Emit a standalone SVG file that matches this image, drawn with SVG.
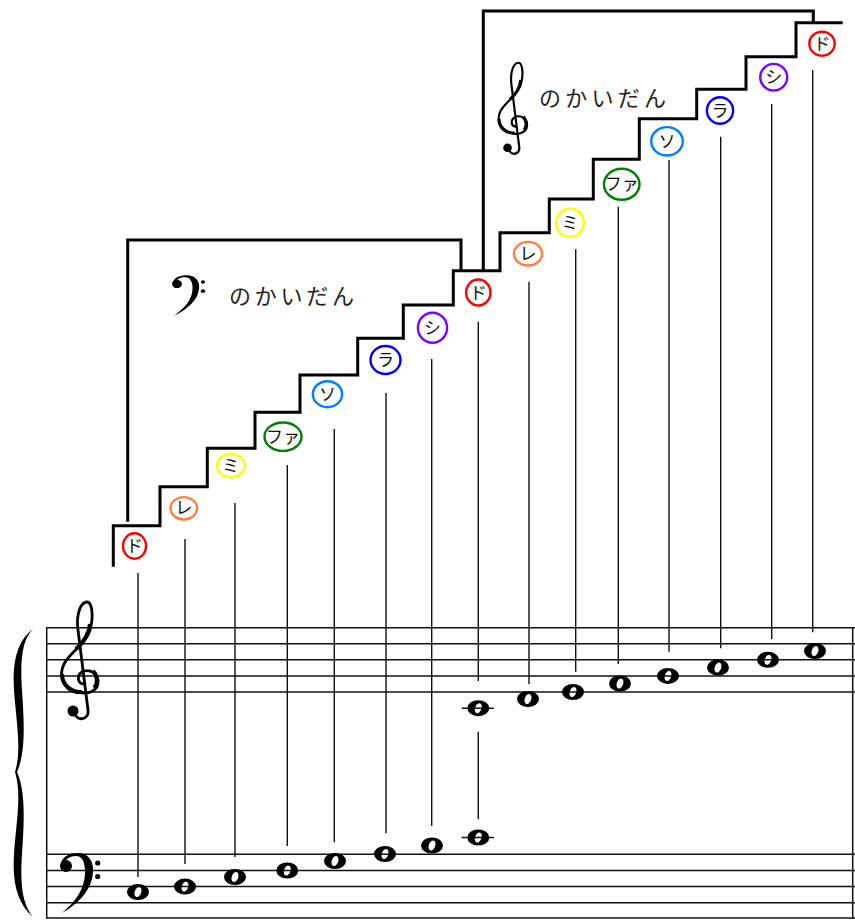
<svg xmlns="http://www.w3.org/2000/svg" xmlns:xlink="http://www.w3.org/1999/xlink" width="855" height="920" viewBox="0 0 855 920">
<style>
.stair{fill:none;stroke:#000;stroke-width:3;stroke-linejoin:miter}
.staff{stroke:#111;stroke-width:1.5}
.conn{stroke:#111;stroke-width:1.4}
.ring{fill:#fff;stroke-width:2.4}
.lbl{font-family:"Noto Sans CJK JP","Noto Sans",sans-serif;font-size:17px;text-anchor:middle;fill:#111}
.title{font-family:"Noto Sans CJK JP","Noto Sans",sans-serif;font-size:22px;fill:#222}
.ledger{stroke:#111;stroke-width:1.6}
</style>
<defs>
<path id="whole" fill-rule="evenodd" fill="#000" d="M -11 0 A 11 8 0 1 0 11 0 A 11 8 0 1 0 -11 0 Z M 1.9 -4.7 A 2.9 5.1 20 1 0 -1.9 4.7 A 2.9 5.1 20 1 0 1.9 -4.7 Z"/>
<g id="treble">
<path fill="none" stroke="#000" stroke-width="2.8" stroke-linecap="round" d="M 4 6 C -2 6 -4 -2 2 -6 C 10 -10 19 -4 18 5 C 17 14 6 17 -2 14 C -16 10 -22 -2 -16 -14 C -10 -26 6 -34 10 -48 C 14 -62 12 -76 7 -76 C 0 -76 -4 -62 -2 -48 L 8 32 C 9 41 0 43 -4 38"/>
<path fill="none" stroke="#000" stroke-width="4" d="M -18 -4 C -18 8 -8 15 2 14 M 13 -7 C 18 -2 18 6 14 10 M -4 -29 C 4 -36 9 -44 10 -54"/>
<circle cx="-7" cy="33" r="5.5" fill="#000"/>
</g>
<g id="bass">
<path fill="#000" d="M -5 -3 C -3 -10 4 -13 12 -13 C 22 -13 28 -5 27 6 C 26 24 12 38 -4 47 C 8 37 19 24 19 6 C 19 -4 16 -10 10 -10 C 4 -10 0 -7 -1 -3 Z"/>
<circle cx="0" cy="0" r="6" fill="#000"/>
<circle cx="31.7" cy="-3" r="2.6" fill="#000"/>
<circle cx="31.7" cy="10.5" r="2.6" fill="#000"/>
</g>
</defs>
<rect width="855" height="920" fill="#fff"/>

<g id="frames">
<path class="stair" d="M 127.7 521.7 V 240 H 461 V 270.7"/>
<path class="stair" d="M 483.3 270 V 11 H 813.3 V 22.7"/>
<path class="stair" d="M 113.3 566.7 V 525.7 H 160 V 486.7 H 207.3 V 448.3 H 255 V 412.3 H 300 V 375 H 357.7 V 338.3 H 403.3 V 305 H 453.3 V 270.7 H 500 V 232.7 H 549.3 V 199 H 593.3 V 159.3 H 639.3 V 118.7 H 696.7 V 89.3 H 746 V 56.7 H 796 V 22.7 H 842.7"/>
</g>

<g id="titles">
<use xlink:href="#bass" transform="translate(177,284) scale(0.82,0.68)"/>
<text class="title" x="229" y="304" textLength="125" lengthAdjust="spacing">のかいだん</text>
<use xlink:href="#treble" transform="translate(513,122) scale(0.78)"/>
<text class="title" x="539" y="106" textLength="127" lengthAdjust="spacing">のかいだん</text>
</g>

<g id="staff">
<g class="staff">
<line x1="46.7" y1="627.7" x2="855" y2="627.7"/>
<line x1="46.7" y1="643.7" x2="855" y2="643.7"/>
<line x1="46.7" y1="659.8" x2="855" y2="659.8"/>
<line x1="46.7" y1="675.9" x2="855" y2="675.9"/>
<line x1="46.7" y1="692" x2="855" y2="692"/>
<line x1="46.7" y1="854.3" x2="855" y2="854.3"/>
<line x1="46.7" y1="870.5" x2="855" y2="870.5"/>
<line x1="46.7" y1="886.6" x2="855" y2="886.6"/>
<line x1="46.7" y1="902.7" x2="855" y2="902.7"/>
<line x1="46.7" y1="918" x2="855" y2="918"/>
<line x1="46.7" y1="627" x2="46.7" y2="918.7"/>
<line x1="852.7" y1="627" x2="852.7" y2="918.7"/>
</g>
<path id="brace" fill="#000" d="M 33 629 C 18 640 12 660 14 690 C 16 720 22 750 15 772 C 22 794 16 824 14 854 C 12 884 18 904 33 917 C 22 904 20 884 22 854 C 24 824 26 792 17 772 C 26 752 24 720 22 690 C 20 660 22 640 33 629 Z"/>
<use xlink:href="#treble" transform="translate(80,678)"/>
<use xlink:href="#bass" transform="translate(66,866)"/>
</g>

<g id="connectors">
<line class="conn" x1="138" y1="573" x2="138" y2="877"/>
<line class="conn" x1="185" y1="539" x2="185" y2="864"/>
<line class="conn" x1="235" y1="503" x2="235" y2="857"/>
<line class="conn" x1="287.3" y1="465" x2="287.3" y2="846"/>
<line class="conn" x1="334.3" y1="429" x2="334.3" y2="842.3"/>
<line class="conn" x1="386" y1="393" x2="386" y2="833.3"/>
<line class="conn" x1="431.7" y1="359" x2="431.7" y2="826"/>
<line class="conn" x1="478.3" y1="321.7" x2="478.3" y2="681"/>
<line class="conn" x1="478.3" y1="731.7" x2="478.3" y2="819.3"/>
<line class="conn" x1="529" y1="281.7" x2="529" y2="684.3"/>
<line class="conn" x1="575.7" y1="249.3" x2="575.7" y2="671.7"/>
<line class="conn" x1="618.3" y1="206.7" x2="618.3" y2="664"/>
<line class="conn" x1="669" y1="160" x2="669" y2="651.7"/>
<line class="conn" x1="720.7" y1="136.7" x2="720.7" y2="648.3"/>
<line class="conn" x1="771.7" y1="104" x2="771.7" y2="639.3"/>
<line class="conn" x1="812.7" y1="70" x2="812.7" y2="632.3"/>
</g>

<g id="labels">
<g id="bass-do"><ellipse class="ring" cx="134.5" cy="546" rx="11.5" ry="12.7" stroke="#ff0000"/><text class="lbl" x="134.5" y="552">ド</text></g>
<g id="bass-re"><ellipse class="ring" cx="183.8" cy="508.3" rx="13.3" ry="11.2" stroke="#ff8040"/><text class="lbl" x="183.8" y="514.3">レ</text></g>
<g id="bass-mi"><ellipse class="ring" cx="230.8" cy="465.5" rx="13.7" ry="11.7" stroke="#ffff00"/><text class="lbl" x="230.8" y="471.5">ミ</text></g>
<g id="bass-fa"><ellipse class="ring" cx="283" cy="436.7" rx="18.5" ry="14.2" stroke="#008000"/><text class="lbl" x="283" y="442.7">ファ</text></g>
<g id="bass-so"><ellipse class="ring" cx="327.5" cy="394.2" rx="14.6" ry="13" stroke="#0080ff"/><text class="lbl" x="327.5" y="400.2">ソ</text></g>
<g id="bass-la"><ellipse class="ring" cx="385.5" cy="360" rx="15" ry="14" stroke="#0000ff"/><text class="lbl" x="385.5" y="366">ラ</text></g>
<g id="bass-si"><ellipse class="ring" cx="432.5" cy="327.8" rx="14.6" ry="15" stroke="#8000ff"/><text class="lbl" x="432.5" y="333.8">シ</text></g>
<g id="mid-do"><ellipse class="ring" cx="478.3" cy="292.5" rx="12.2" ry="13" stroke="#ff0000"/><text class="lbl" x="478.3" y="298.5">ド</text></g>
<g id="treble-re"><ellipse class="ring" cx="528" cy="253.7" rx="14.1" ry="11.8" stroke="#ff8040"/><text class="lbl" x="528" y="259.7">レ</text></g>
<g id="treble-mi"><ellipse class="ring" cx="570" cy="222.8" rx="13.8" ry="14.3" stroke="#ffff00"/><text class="lbl" x="570" y="228.8">ミ</text></g>
<g id="treble-fa"><ellipse class="ring" cx="621.7" cy="184.3" rx="17.8" ry="15.5" stroke="#008000"/><text class="lbl" x="621.7" y="190.3">ファ</text></g>
<g id="treble-so"><ellipse class="ring" cx="667" cy="141.3" rx="15.8" ry="14.2" stroke="#0080ff"/><text class="lbl" x="667" y="147.3">ソ</text></g>
<g id="treble-la"><ellipse class="ring" cx="720" cy="110.5" rx="13.1" ry="13.3" stroke="#0000ff"/><text class="lbl" x="720" y="116.5">ラ</text></g>
<g id="treble-si"><ellipse class="ring" cx="773.7" cy="77.2" rx="13.5" ry="13.3" stroke="#8000ff"/><text class="lbl" x="773.7" y="83.2">シ</text></g>
<g id="top-do"><ellipse class="ring" cx="822" cy="43.7" rx="12.7" ry="12" stroke="#ff0000"/><text class="lbl" x="822" y="49.7">ド</text></g>
</g>

<g id="notes">
<g id="n-c3"><use xlink:href="#whole" x="138" y="892"/></g>
<g id="n-d3"><use xlink:href="#whole" x="185" y="886.6"/></g>
<g id="n-e3"><use xlink:href="#whole" x="235" y="877"/></g>
<g id="n-f3"><use xlink:href="#whole" x="287.3" y="870.5"/></g>
<g id="n-g3"><use xlink:href="#whole" x="335" y="861"/></g>
<g id="n-a3"><use xlink:href="#whole" x="385" y="854"/></g>
<g id="n-b3"><use xlink:href="#whole" x="432" y="845.5"/></g>
<g id="n-c4b"><line class="ledger" x1="461.7" y1="837.5" x2="494" y2="837.5"/><use xlink:href="#whole" x="478.3" y="837.5"/></g>
<g id="n-c4t"><line class="ledger" x1="461.7" y1="708.2" x2="494" y2="708.2"/><use xlink:href="#whole" x="478.3" y="708.2"/></g>
<g id="n-d4"><use xlink:href="#whole" x="528" y="699"/></g>
<g id="n-e4"><use xlink:href="#whole" x="573" y="692"/></g>
<g id="n-f4"><use xlink:href="#whole" x="620" y="683.5"/></g>
<g id="n-g4"><use xlink:href="#whole" x="668" y="675.9"/></g>
<g id="n-a4"><use xlink:href="#whole" x="718" y="667.5"/></g>
<g id="n-b4"><use xlink:href="#whole" x="768" y="659.8"/></g>
<g id="n-c5"><use xlink:href="#whole" x="815" y="651"/></g>
</g>
</svg>
